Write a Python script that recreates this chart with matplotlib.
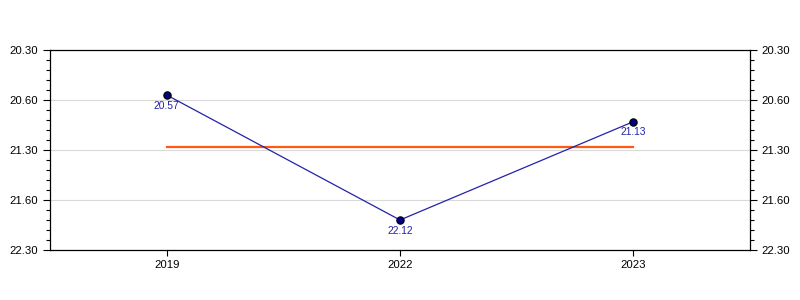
import matplotlib
matplotlib.use("Agg")
import matplotlib.pyplot as plt
from matplotlib.ticker import AutoMinorLocator

categories = ["2019", "2022", "2023"]
times = ["20.57", "22.12", "21.13"]          # minutes.seconds
mean_time = 21.467                            # decimal minutes (orange line)
ytick_values = [20.5, 21.0, 21.5, 22.0, 22.5]  # decimal minutes
ytick_labels = ["20.30", "20.60", "21.30", "21.60", "22.30"]

def to_minutes(s):
    m, sec = s.split(".")
    return int(m) + int(sec) / 60.0

values = [to_minutes(t) for t in times]

plt.rcParams['font.family'] = ['Liberation Sans', 'DejaVu Sans']
fig = plt.figure(figsize=(8, 3), dpi=100)
ax = fig.add_axes([50/800, 50/300, 700/800, 200/300])
x = list(range(len(categories)))

ax.plot(x, values, color="#2323a8", lw=0.9, zorder=3)
ax.scatter(x, values, s=28, color="#000080", edgecolor="black", linewidth=0.8, zorder=4)
ax.plot([x[0], x[-1]], [mean_time, mean_time], color="#ff5a10", lw=1.6, zorder=2)
for xi, v, t in zip(x, values, times):
    ax.annotate(t, (xi, v), xytext=(0, -4), textcoords="offset points",
                ha="center", va="top", color="#2323a8", fontsize=7.4)

ax.set_xlim(-0.5, len(categories) - 0.5)
ax.set_ylim(ytick_values[-1], ytick_values[0])
ax.set_xticks(x)
ax.set_xticklabels(categories, fontsize=8.2)
ax.set_yticks(ytick_values)
ax.set_yticklabels(ytick_labels, fontsize=8.2)
ax.yaxis.set_minor_locator(AutoMinorLocator(5))
ax.tick_params(axis="y", which="both", left=True, right=True, labelleft=True, labelright=True)
ax.tick_params(axis="y", which="major", length=5, width=0.8)
ax.tick_params(axis="y", which="minor", length=3, width=0.8)
ax.tick_params(axis="x", length=4, width=0.8)
ax.grid(axis="y", which="major", color="#d9d9d9", lw=0.8)
ax.set_axisbelow(True)
for s in ax.spines.values():
    s.set_linewidth(0.9)

fig.savefig("out.png", dpi=100)
